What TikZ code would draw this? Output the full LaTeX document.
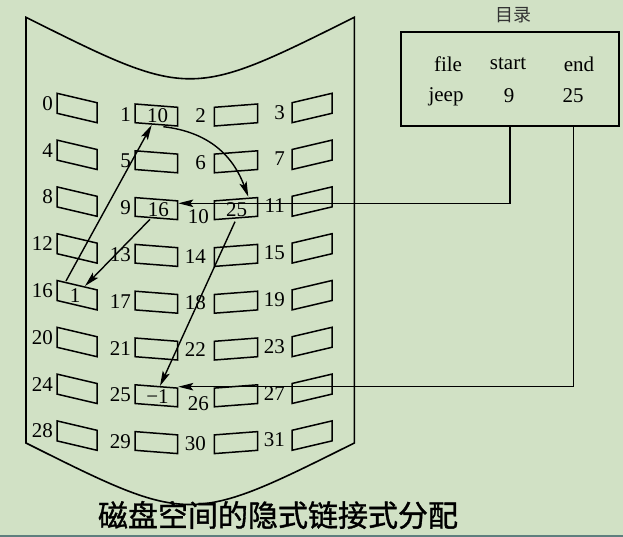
\documentclass[tikz,border=0pt]{standalone}
\usepackage{fontspec}
\setmainfont{Liberation Serif}
\newfontfamily\cjk{Noto Sans CJK SC}
\newfontfamily\cjkb[FakeBold=1.2]{Noto Sans CJK SC}
\usetikzlibrary{arrows.meta}
\definecolor{bg}{HTML}{D1E1C5}
\definecolor{edgeline}{HTML}{5E7F7E}
\begin{document}
\begin{tikzpicture}[x=1pt,y=-1pt,
  every node/.style={inner sep=0pt, font=\fontsize{21}{25}\selectfont},
  outline/.style={line width=1.6pt, black},
  cell/.style={line width=1.5pt, black, line join=miter},
  lbl/.style={anchor=east},
  val/.style={},
  link/.style={line width=1.4pt, -{Stealth[length=15pt,width=7.5pt,inset=3pt]}},
  dirbox/.style={draw, line width=1.5pt, minimum width=218pt, minimum height=94pt},
  title/.style={font=\cjkb\fontsize{30}{34}\selectfont},
  dirtitle/.style={font=\cjk\fontsize{18}{21}\selectfont, text=black!80}]
\fill[bg] (0,0) rectangle (623,537);
\useasboundingbox (0,0) rectangle (623,537);
\draw[edgeline, line width=2pt] (0,536) -- (623,536);

% disc outline
\draw[outline] (26,17.3) .. controls (190,99.3) .. (354.3,17.3) -- (354.3,443)
  .. controls (190,525) .. (26,443) -- cycle;

% blocks
\foreach \r in {0,...,7}{
  \pgfmathsetmacro\yy{93.3+46.8*\r}
  \pgfmathtruncatemacro\na{4*\r}
  \pgfmathtruncatemacro\nb{4*\r+1}
  \pgfmathtruncatemacro\nc{4*\r+2}
  \pgfmathtruncatemacro\nd{4*\r+3}
  \draw[cell] (57,\yy) -- (97,\yy+9.4) -- (97,\yy+29.4) -- (57,\yy+20) -- cycle;
  \draw[cell] (135,\yy+10.7) -- (177.7,\yy+14) -- (177.7,\yy+32.7) -- (135,\yy+29.4) -- cycle;
  \draw[cell] (214.3,\yy+14) -- (257.7,\yy+10.7) -- (257.7,\yy+29.4) -- (214.3,\yy+32.7) -- cycle;
  \draw[cell] (292,\yy+9.4) -- (332,\yy) -- (332,\yy+20) -- (292,\yy+29.4) -- cycle;
  \node[lbl] (l\na) at (53,\yy+10) {\na};
  \node[lbl] (l\nb) at (131,\yy+21) {\nb};
  \ifnum\nc=10
    \node[lbl] (l\nc) at (209,\yy+29.5) {\nc};
  \else\ifnum\nc=26
    \node[lbl] (l\nc) at (209,\yy+29.5) {\nc};
  \else
    \node[lbl] (l\nc) at (206,\yy+22.5) {\nc};
  \fi\fi
  \node[lbl] (l\nd) at (285,\yy+19) {\nd};
}

% block contents
\node[val] (v1) at (157.5,115.5) {10};
\node[val] (v9) at (158.3,209.5) {16};
\node[val] (v10) at (236.7,209.5) {25};
\node[val] (v16) at (75,296) {1};
\node[val] (v25) at (157.5,397) {\textminus 1};

% directory
\node[dirtitle] (dirt) at (513,15) {目录};
\node[dirbox] (dir) at (510.2,79.2) {};
\node (hfile) at (448,64) {file};
\node (hstart) at (508,64) {start};
\node (hend) at (579,64) {end};
\node (jeep) at (446,97) {jeep};
\node (s9) at (509,95.5) {9};
\node (e25) at (573,95.5) {25};

% connector end points
\coordinate (dstart) at (510,126.2);
\coordinate (dend) at (573.3,126.2);
\coordinate (in9) at (178.3,203.3);
\coordinate (in25) at (178.3,386.7);
\coordinate (out9) at (150,219.3);
\coordinate (in16) at (85,286);
\coordinate (out16) at (66,281);
\coordinate (in1) at (151.7,125);
\coordinate (out1) at (163.3,126.7);
\coordinate (in10) at (248.3,196.7);
\coordinate (out10) at (235,221.7);
\coordinate (in25t) at (160,386);

\draw[link] (dstart) |- (in9);
\draw[link] (dend) |- (in25);
\draw[link] (out9) -- (in16);
\draw[link] (out16) -- (in1);
\draw[link] (out1) .. controls (200,131) and (230,148) .. (in10);
\draw[link] (out10) -- (in25t);

% caption
\node[title] (cap) at (278,515) {磁盘空间的隐式链接式分配};
\end{tikzpicture}
\end{document}
